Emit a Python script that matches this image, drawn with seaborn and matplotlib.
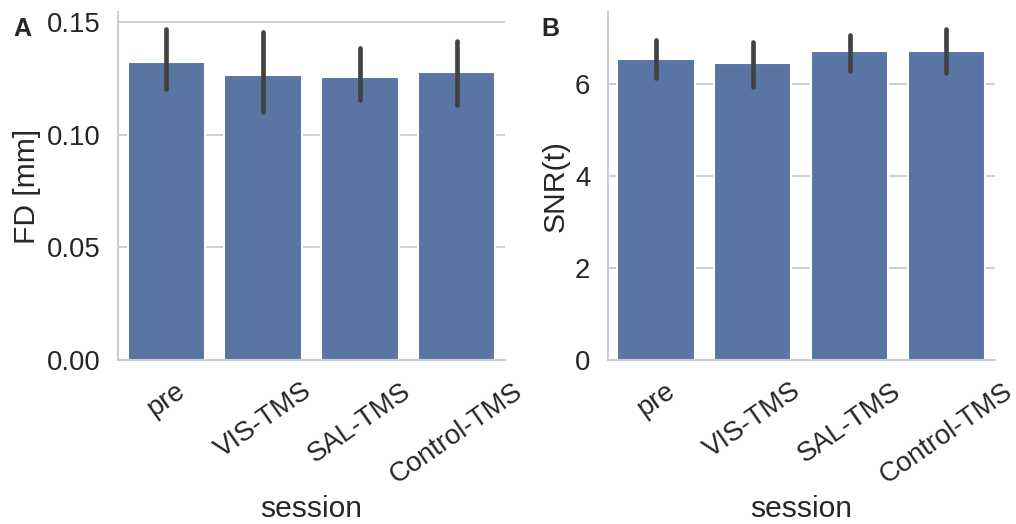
import numpy as np
import pandas as pd
import matplotlib
matplotlib.use("Agg")
import matplotlib.pyplot as plt
import seaborn as sns

# Session labels
sessions = ["pre", "VIS-TMS", "SAL-TMS", "Control-TMS"]

# Framewise displacement: central value and interval bounds per session
fd_mid = [0.1322, 0.1266, 0.1258, 0.1278]
fd_low = [0.1204, 0.1101, 0.1153, 0.1134]
fd_high = [0.1472, 0.1457, 0.1387, 0.1418]

# Temporal SNR: central value and interval bounds per session
snr_mid = [6.55, 6.45, 6.71, 6.71]
snr_low = [6.13, 5.93, 6.29, 6.24]
snr_high = [6.945, 6.92, 7.07, 7.20]


def long_table(mid, low, high, name):
    rows = []
    for s, m, lo, hi in zip(sessions, mid, low, high):
        for v in (lo, m, hi):
            rows.append({"session": s, name: v})
    return pd.DataFrame(rows)


fd_df = long_table(fd_mid, fd_low, fd_high, "FD [mm]")
snr_df = long_table(snr_mid, snr_low, snr_high, "SNR(t)")

sns.set_theme(context="talk", style="whitegrid", font_scale=1.2,
              rc={"axes.linewidth": 1.4, "grid.linewidth": 1.3})
plt.rcParams["font.family"] = ["Liberation Sans", "DejaVu Sans"]

fig = plt.figure(figsize=(10.16, 5.24), dpi=100)
ax_a = fig.add_axes([0.116, 0.313, 0.381, 0.664])
ax_b = fig.add_axes([0.598, 0.313, 0.381, 0.664])

for ax, df, col in ((ax_a, fd_df, "FD [mm]"), (ax_b, snr_df, "SNR(t)")):
    sns.barplot(data=df, x="session", y=col, order=sessions,
                estimator=np.median, errorbar=("pi", 100),
                color="#4C72B0", ax=ax)
    ax.tick_params(axis="x", rotation=35, pad=4)
    ax.set_xlabel("session", labelpad=5)
    sns.despine(ax=ax)

ax_a.set_yticks([0.0, 0.05, 0.10, 0.15])
ax_a.set_yticklabels(["0.00", "0.05", "0.10", "0.15"])
ax_b.set_yticks([0, 2, 4, 6])

fig.text(0.0135, 0.968, "A", fontsize=18, fontweight="bold", va="top")
fig.text(0.533, 0.968, "B", fontsize=18, fontweight="bold", va="top")

fig.savefig("out.png", dpi=100)
